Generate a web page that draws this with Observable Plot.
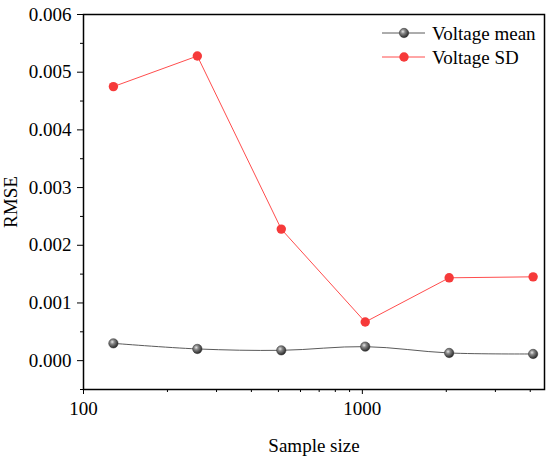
<!DOCTYPE html>
<html><head><meta charset="utf-8">
<script src="https://cdn.jsdelivr.net/npm/d3@7"></script>
<script src="https://cdn.jsdelivr.net/npm/@observablehq/plot@0.6"></script>
<style>body{margin:0;background:#fff;overflow:hidden}svg{display:block}</style>
</head><body><div id="chart"></div>
<script>
const sampleSizes = [128, 256, 512, 1024, 2048, 4096];
const voltageMean = [0.00030, 0.000203, 0.000179, 0.000243, 0.000133, 0.000116];
const voltageSD = [0.00475, 0.00528, 0.00228, 0.00067, 0.001436, 0.001453];
const xMajorTicks = [100, 1000];
const xMinorTicks = [200, 300, 400, 500, 600, 700, 800, 900, 2000, 3000, 4000];
const yMajorTicks = [0, 0.001, 0.002, 0.003, 0.004, 0.005, 0.006];
const yMinorTicks = [-0.0005, 0.0005, 0.0015, 0.0025, 0.0035, 0.0045, 0.0055];
const seriesNames = ["Voltage mean", "Voltage SD"];
const meanData = sampleSizes.map((n, i) => ({n, v: voltageMean[i]}));
const sdData = sampleSizes.map((n, i) => ({n, v: voltageSD[i]}));
const font = "'Liberation Serif', 'Times New Roman', serif";
const svg = Plot.plot({
  width: 550, height: 458,
  marginTop: 14, marginBottom: 69, marginLeft: 83, marginRight: 6,
  style: {fontSize: "19px", color: "black", background: "white"},
  x: {type: "log", domain: [100, 4500]},
  y: {domain: [-0.0005, 0.006]},
  marks: [
    Plot.axisX(xMinorTicks, {tickSize: 3, text: null, label: null}),
    Plot.axisX(xMajorTicks, {tickSize: 5, tickPadding: 7, tickFormat: d => String(d), fontSize: 19,
      label: "Sample size", labelAnchor: "center", labelArrow: "none", labelOffset: 62}),
    Plot.axisY(yMinorTicks, {tickSize: 3, text: null, label: null}),
    Plot.axisY(yMajorTicks, {tickSize: 6, tickPadding: 6, tickFormat: d3.format(".3f"), fontSize: 19,
      label: "RMSE", labelAnchor: "center", labelArrow: "none", labelOffset: 80}),
    Plot.frame({stroke: "black", strokeWidth: 1.5}),
    Plot.line(sdData, {x: "n", y: "v", stroke: "#ff4d4d", strokeWidth: 1}),
    Plot.line(meanData, {x: "n", y: "v", stroke: "#5a5a5a", strokeWidth: 1, curve: "catmull-rom"}),
    Plot.dot(sdData, {x: "n", y: "v", r: 4.7, fill: "#f63a3a", stroke: "none"}),
    Plot.dot(meanData, {x: "n", y: "v", r: 4.7, fill: "url(#sphere)", stroke: "#333", strokeWidth: 0.5})
  ]
});
const s = d3.select(svg);
s.selectAll("text").style("font-family", font).style("font-variant", "normal");

// gradient for the shaded sphere markers
const defs = s.append("defs");
const g = defs.append("radialGradient").attr("id", "sphere").attr("cx", "38%").attr("cy", "35%").attr("r", "65%");
g.append("stop").attr("offset", "0%").attr("stop-color", "#e8e8e8");
g.append("stop").attr("offset", "35%").attr("stop-color", "#888");
g.append("stop").attr("offset", "100%").attr("stop-color", "#2a2a2a");

// Legend
const leg = s.append("g").attr("text-anchor", "start").attr("font-family", font).attr("font-size", 19);
const legItems = [
  {name: seriesNames[0], y: 33, stroke: "#5a5a5a", fill: "url(#sphere)"},
  {name: seriesNames[1], y: 57, stroke: "#ff4d4d", fill: "#f63a3a"}
];
legItems.forEach(it => {
  leg.append("line").attr("x1", 382).attr("x2", 425).attr("y1", it.y).attr("y2", it.y).attr("stroke", it.stroke).attr("stroke-width", 1);
  leg.append("circle").attr("cx", 404).attr("cy", it.y).attr("r", 4.7).attr("fill", it.fill).attr("stroke", it.fill.startsWith("url") ? "#333" : "none").attr("stroke-width", 0.5);
  leg.append("text").attr("x", 432).attr("y", it.y).attr("dy", "0.35em").attr("fill", "black").text(it.name);
});

document.getElementById("chart").appendChild(svg);
</script></body></html>
